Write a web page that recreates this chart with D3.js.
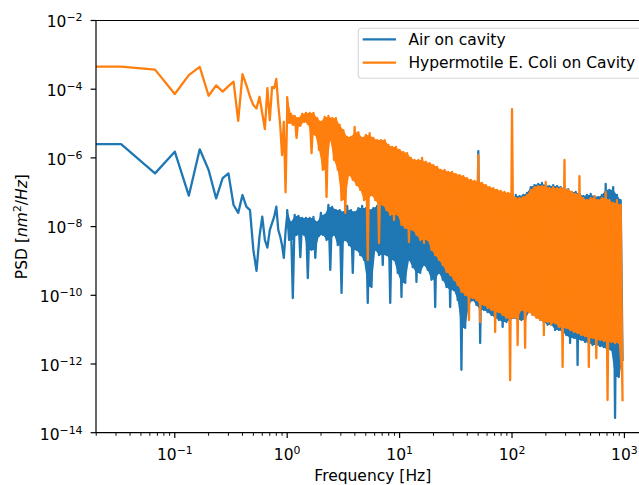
<!DOCTYPE html>
<html><head><meta charset="utf-8">
<script src="https://cdn.jsdelivr.net/npm/d3@7"></script>
<style>
body{margin:0;background:#fff}
svg{display:block}
text{font-family:"DejaVu Sans",sans-serif;fill:#000}
</style>
</head><body>
<svg id="chart" width="639" height="485"></svg>
<script>
// ---------------- DATA ----------------
const seriesNames = ["Air on cavity", "Hypermotile E. Coli on Cavity"];
const seriesColors = ["#1f77b4", "#ff7f0e"];

// low-frequency periodogram points, 1/30 Hz spacing (f = 0 is the DC bin)
const lowFreq = [0, 0.0333, 0.0667, 0.1, 0.1333, 0.1667, 0.2, 0.2333, 0.2667, 0.3,
  0.3333, 0.3667, 0.4, 0.4333, 0.4667, 0.5, 0.5333, 0.5667, 0.6, 0.6333,
  0.6667, 0.7, 0.7333, 0.7667, 0.8, 0.8333, 0.8667, 0.9, 0.9333, 0.9667, 1.0];
// log10(PSD) at lowFreq
const airLowLog = [-5.60, -5.60, -6.45, -5.82, -7.10, -5.75, -6.35, -7.18, -6.59, -6.45,
  -7.37, -7.60, -7.08, -7.42, -7.52, -8.68, -9.29, -8.29, -7.71, -8.39,
  -8.61, -8.10, -7.90, -7.71, -7.42, -8.10, -8.29, -8.54, -8.91, -8.15, -7.66];
const ecoliLowLog = [-3.36, -3.34, -3.43, -4.14, -3.59, -3.35, -4.19, -3.89, -4.07, -3.91,
  -3.78, -4.92, -3.56, -3.88, -4.22, -4.46, -4.56, -4.22, -4.70, -5.16,
  -3.97, -4.90, -3.94, -3.97, -3.70, -4.46, -5.04, -5.92, -4.95, -7.00, -4.56];

// dense part (1 Hz .. 1 kHz): frequency bin edges, and per-bin upper / lower excursions of log10(PSD)
const binEdgesHz = [1.000, 1.080, 1.166, 1.259, 1.359, 1.468, 1.585, 1.711, 1.848, 1.995,
  2.154, 2.326, 2.512, 2.712, 2.929, 3.162, 3.415, 3.687, 3.981, 4.299,
  4.642, 5.012, 5.412, 5.843, 6.310, 6.813, 7.356, 7.943, 8.577, 9.261,
  10.00, 10.80, 11.66, 12.59, 13.59, 14.68, 15.85, 17.11, 18.48, 19.95,
  21.54, 23.26, 25.12, 27.12, 29.29, 31.62, 34.15, 36.87, 39.81, 42.99,
  46.42, 50.12, 54.12, 58.43, 63.10, 68.13, 73.56, 79.43, 85.77, 92.61,
  100.0, 108.0, 116.6, 125.9, 135.9, 146.8, 158.5, 171.1, 184.8, 199.5,
  215.4, 232.6, 251.2, 271.2, 292.9, 316.2, 341.5, 368.7, 398.1, 429.9,
  464.2, 501.2, 541.2, 584.3, 631.0, 681.3, 735.6, 794.3, 857.7, 926.1, 1000];

const airHiLog = [-7.52, -7.87, -7.66, -7.69, -7.75, -7.75, -7.75, -7.72, -7.87, -7.60,
  -7.66, -7.37, -7.43, -7.52, -7.52, -7.58, -7.40, -7.52, -7.58, -7.46,
  -7.40, -7.46, -7.52, -7.46, -7.40, -7.31, -7.37, -7.37, -7.40, -7.40,
  -7.40, -7.37, -7.40, -7.43, -7.40, -7.40, -7.43, -7.43, -7.43, -7.43,
  -7.43, -7.43, -7.43, -7.43, -7.43, -7.43, -7.43, -7.43, -7.43, -7.43,
  -7.30, -5.80, -7.23, -7.23, -7.23, -7.23, -7.23, -7.23, -7.23, -7.23,
  -7.23, -7.08, -7.11, -7.08, -7.02, -6.85, -6.79, -6.76, -6.73, -6.79,
  -6.82, -6.79, -6.82, -6.85, -6.88, -6.91, -6.99, -6.99, -7.05, -7.11,
  -7.08, -7.05, -7.11, -7.14, -7.08, -6.76, -6.93, -6.85, -7.08, -7.23];
const airLoLog = [-8.39, -10.08, -8.24, -8.89, -8.24, -9.50, -8.68, -8.91, -8.27, -8.24,
  -8.39, -9.26, -8.24, -8.54, -9.93, -8.39, -8.54, -9.35, -8.68, -8.83,
  -8.97, -10.22, -9.76, -8.68, -8.83, -9.12, -8.83, -10.22, -8.97, -9.35,
  -10.05, -9.64, -8.97, -9.18, -9.61, -9.35, -9.12, -9.26, -9.55, -10.34,
  -9.35, -9.55, -9.76, -10.34, -9.85, -10.14, -12.17, -10.95, -10.28, -10.14,
  -10.28, -11.39, -10.43, -10.49, -10.57, -10.66, -10.72, -10.92, -10.78, -10.72,
  -10.66, -10.72, -10.72, -10.72, -10.49, -10.57, -10.43, -10.72, -10.78, -10.86,
  -10.86, -11.01, -11.01, -11.07, -11.16, -11.39, -11.24, -12.03, -11.30, -11.36,
  -11.39, -11.45, -11.45, -11.48, -11.51, -11.59, -11.59, -13.57, -12.38, -11.88];
const ecoliHiLog = [-4.23, -4.72, -4.78, -4.84, -4.72, -4.69, -4.69, -4.69, -4.84, -4.95,
  -4.81, -4.78, -4.84, -4.84, -5.04, -5.19, -5.39, -5.39, -5.10, -5.25,
  -5.42, -5.33, -5.28, -5.42, -5.48, -5.48, -5.48, -5.62, -5.68, -5.68,
  -5.77, -5.83, -5.86, -6.00, -6.06, -6.06, -6.00, -6.12, -6.15, -6.21,
  -6.26, -6.35, -6.35, -6.41, -6.41, -6.47, -6.50, -6.53, -6.59, -6.64,
  -6.67, -5.92, -6.73, -6.79, -6.85, -6.88, -6.93, -6.96, -6.99, -7.02,
  -4.58, -7.17, -7.17, -7.14, -7.08, -6.93, -6.85, -6.82, -6.82, -6.70,
  -6.88, -6.85, -6.88, -6.88, -6.06, -6.93, -6.99, -7.05, -6.53, -7.17,
  -7.23, -7.17, -7.11, -7.23, -7.17, -6.99, -7.23, -7.31, -7.23, -7.37];
const ecoliLoLog = [-4.98, -5.04, -5.42, -5.07, -4.95, -5.01, -5.86, -5.33, -5.77, -6.35,
  -7.14, -5.48, -6.06, -6.35, -7.23, -7.60, -6.50, -6.64, -6.79, -6.93,
  -7.23, -8.97, -7.08, -7.23, -8.48, -7.37, -7.52, -7.66, -7.81, -7.66,
  -7.95, -8.04, -8.45, -8.10, -8.24, -8.39, -8.48, -8.39, -8.68, -8.83,
  -8.97, -9.12, -9.32, -9.41, -9.55, -9.70, -9.90, -9.99, -10.72, -10.08,
  -10.14, -10.78, -10.28, -10.37, -10.43, -11.07, -10.49, -10.57, -10.66, -12.47,
  -10.66, -11.45, -10.43, -11.53, -10.49, -10.57, -10.66, -10.72, -11.16, -10.78,
  -10.86, -10.81, -10.92, -12.09, -10.95, -11.01, -11.07, -11.10, -11.16, -11.19,
  -12.09, -11.24, -11.83, -11.30, -11.33, -13.05, -11.36, -11.39, -11.39, -13.05];

const xLimits = [0.01991, 1675];
const yLimits = [1e-14, 1e-2];
const xMajorTicks = [0.1, 1, 10, 100, 1000];
const xMajorExp = ["\u22121", "0", "1", "2", "3"];
const yMajorTicks = [1e-2, 1e-4, 1e-6, 1e-8, 1e-10, 1e-12, 1e-14];
const yMajorExp = ["\u22122", "\u22124", "\u22126", "\u22128", "\u221210", "\u221212", "\u221214"];

// ---------------- DRAWING ----------------
const svg = d3.select("#chart");
svg.append("rect").attr("width", 639).attr("height", 485).attr("fill", "#fff");

const area = {left: 96, top: 20.5, right: 649.6, bottom: 432.7};
const fs = 15.5, supFs = 10.9, supRise = 6;

const x = d3.scaleLog().domain(xLimits).range([area.left, area.right]);
const y = d3.scaleLog().domain(yLimits).range([area.bottom, area.top]);

svg.append("clipPath").attr("id", "clip").append("rect")
  .attr("x", area.left).attr("y", area.top)
  .attr("width", area.right - area.left).attr("height", area.bottom - area.top);

const binMid = i => Math.sqrt(binEdgesHz[i] * binEdgesHz[i + 1]);

function buildLine(lowLog, hiLog, loLog) {
  const pts = lowFreq.map((f, i) => ({f: f, v: Math.pow(10, lowLog[i])}));
  hiLog.forEach((h, i) => {
    pts.push({f: binEdgesHz[i], v: Math.pow(10, h)});
    pts.push({f: binMid(i), v: Math.pow(10, loLog[i])});
  });
  return pts;
}
// solid band between the upper and lower excursions; isolated single-bin
// peaks and dips are left to the thin stroke so they stay needle-like
function buildBand(hiLog, loLog) {
  const n = hiLog.length;
  const top = hiLog.map((h, i) => {
    const a = i > 0 ? hiLog[i - 1] : h, b = i < n - 1 ? hiLog[i + 1] : h;
    return {f: binEdgesHz[i], v: Math.pow(10, Math.min(h, Math.max(a, b)))};
  });
  const core = loLog.map((l, i) => {
    const a = i > 0 ? loLog[i - 1] : l, b = i < n - 1 ? loLog[i + 1] : l;
    return {f: binMid(i), v: Math.pow(10, Math.max(l, Math.min(a, b)))};
  });
  return top.concat(core.reverse());
}

const line = d3.line()
  .x(d => x(Math.max(d.f, 1e-300)))
  .y(d => y(d.v));

const data = [
  {line: buildLine(airLowLog, airHiLog, airLoLog), band: buildBand(airHiLog, airLoLog)},
  {line: buildLine(ecoliLowLog, ecoliHiLog, ecoliLoLog), band: buildBand(ecoliHiLog, ecoliLoLog)}
];

const g = svg.append("g").attr("clip-path", "url(#clip)");
data.forEach((s, i) => {
  g.append("path").datum(s.band)
    .attr("d", d => line(d) + "Z")
    .attr("fill", seriesColors[i]).attr("stroke", "none");
  g.append("path").datum(s.line)
    .attr("d", line)
    .attr("fill", "none")
    .attr("stroke", seriesColors[i])
    .attr("stroke-width", 2.3)
    .attr("stroke-linejoin", "round")
    .attr("stroke-linecap", "square");
});

// spines
const spine = svg.append("g").attr("stroke", "#000").attr("stroke-width", 1.2).attr("fill", "none");
spine.append("line").attr("x1", area.left).attr("x2", area.left).attr("y1", area.top).attr("y2", area.bottom);
spine.append("line").attr("x1", area.left).attr("x2", area.right).attr("y1", area.bottom).attr("y2", area.bottom);
spine.append("line").attr("x1", area.left).attr("x2", area.right).attr("y1", area.top).attr("y2", area.top);
spine.append("line").attr("x1", area.right).attr("x2", area.right).attr("y1", area.top).attr("y2", area.bottom);

// x ticks
const xMinor = x.ticks().filter(t => {
  const l = Math.log10(t);
  return Math.abs(l - Math.round(l)) > 1e-6 && t >= xLimits[0] && t <= xLimits[1];
});
svg.append("g").selectAll("line").data(xMinor).join("line")
  .attr("x1", d => x(d)).attr("x2", d => x(d))
  .attr("y1", area.bottom).attr("y2", area.bottom + 3.1)
  .attr("stroke", "#000").attr("stroke-width", 0.95);
svg.append("g").selectAll("line").data(xMajorTicks).join("line")
  .attr("x1", d => x(d)).attr("x2", d => x(d))
  .attr("y1", area.bottom).attr("y2", area.bottom + 5.4)
  .attr("stroke", "#000").attr("stroke-width", 1.2);
const xl = svg.append("g").selectAll("text").data(xMajorTicks).join("text")
  .attr("x", d => x(d)).attr("y", 459.5)
  .attr("text-anchor", "middle").attr("font-size", fs);
xl.append("tspan").text("10");
xl.append("tspan").attr("font-size", supFs).attr("dy", -supRise).text((d, i) => xMajorExp[i]);

// y ticks
svg.append("g").selectAll("line").data(yMajorTicks).join("line")
  .attr("x1", area.left - 5.4).attr("x2", area.left)
  .attr("y1", d => y(d)).attr("y2", d => y(d))
  .attr("stroke", "#000").attr("stroke-width", 1.2);
const yl = svg.append("g").selectAll("text").data(yMajorTicks).join("text")
  .attr("x", 82.5).attr("y", d => y(d) + 6.8)
  .attr("text-anchor", "end").attr("font-size", fs);
yl.append("tspan").text("10");
yl.append("tspan").attr("font-size", supFs).attr("dy", -supRise).text((d, i) => yMajorExp[i]);

// axis labels
svg.append("text").attr("x", (area.left + area.right) / 2).attr("y", 481.3)
  .attr("text-anchor", "middle").attr("font-size", fs).text("Frequency [Hz]");
const ylab = svg.append("text")
  .attr("transform", `translate(27,${(area.top + area.bottom) / 2}) rotate(-90)`)
  .attr("text-anchor", "middle").attr("font-size", fs);
ylab.append("tspan").text("PSD [");
ylab.append("tspan").attr("font-style", "italic").text("nm");
ylab.append("tspan").attr("font-size", supFs).attr("dy", -supRise).text("2");
ylab.append("tspan").attr("dy", supRise).text("/");
ylab.append("tspan").attr("font-style", "italic").text("Hz");
ylab.append("tspan").text("]");

// legend
const leg = svg.append("g");
leg.append("rect").attr("x", 358.3).attr("y", 28.3).attr("width", 283.6).attr("height", 50)
  .attr("rx", 3).attr("fill", "#fff").attr("fill-opacity", 0.8)
  .attr("stroke", "#d6d6d6").attr("stroke-width", 1.1);
seriesNames.forEach((n, i) => {
  const yy = 39.3 + i * 23.4;
  leg.append("line").attr("x1", 362.7).attr("x2", 396).attr("y1", yy).attr("y2", yy)
    .attr("stroke", seriesColors[i]).attr("stroke-width", 2.3);
  leg.append("text").attr("x", 408.4).attr("y", yy + 5.7).attr("font-size", fs).text(n);
});
</script>
</body></html>
